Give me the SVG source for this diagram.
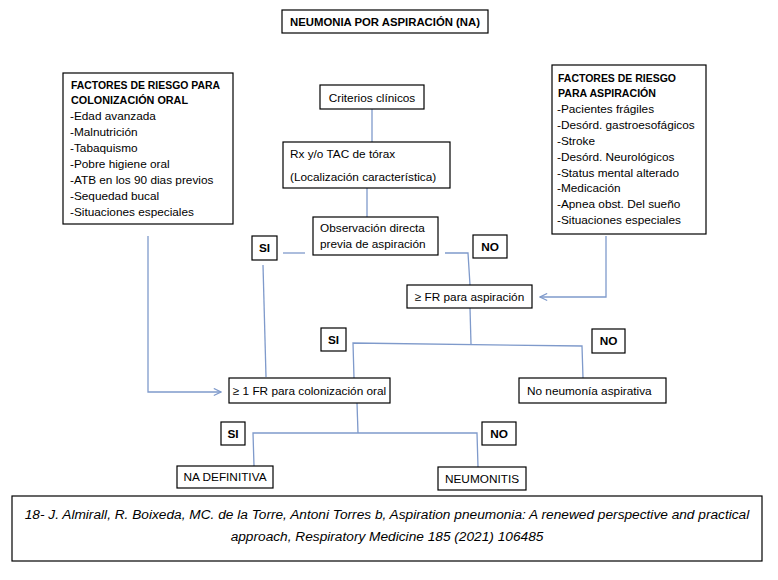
<svg xmlns="http://www.w3.org/2000/svg" width="778" height="580" viewBox="0 0 778 580">
<style>
.box{fill:#fff;stroke:#000;stroke-width:1.2}
.t{font-family:"Liberation Sans",Arial,sans-serif;font-size:11.8px;fill:#000}
.b{font-weight:bold}
.c{text-anchor:middle}
.ln{fill:none;stroke:#7f9acb;stroke-width:1.3}
.cit{font-family:"Liberation Sans",Arial,sans-serif;font-size:13.7px;font-style:italic;fill:#000;text-anchor:middle}
</style>
<defs>
<marker id="ah" viewBox="0 0 10 10" refX="9" refY="5" markerWidth="9" markerHeight="9" orient="auto" markerUnits="userSpaceOnUse">
<path d="M1,1 L9,5 L1,9" fill="none" stroke="#7f9acb" stroke-width="1.3"/>
</marker>
</defs>
<rect width="778" height="580" fill="#fff"/>

<g id="connectors">
<line class="ln" x1="372" y1="109" x2="372" y2="142"/>
<line class="ln" x1="367" y1="188" x2="367" y2="217"/>
<line class="ln" x1="283" y1="253" x2="305" y2="253"/>
<polyline class="ln" points="445,253 468,253 470,285"/>
<polyline class="ln" points="606,236 606,297 540,297" marker-end="url(#ah)"/>
<line class="ln" x1="470" y1="308" x2="471" y2="344"/>
<polyline class="ln" points="354,378 353,343 582,346 583,378"/>
<line class="ln" x1="263" y1="265" x2="266" y2="377"/>
<polyline class="ln" points="148,236 148,392 221,392" marker-end="url(#ah)"/>
<line class="ln" x1="357" y1="403" x2="358" y2="433"/>
<polyline class="ln" points="254,466 253,433 477,433 478,467"/>
</g>

<g id="title">
<rect class="box" x="282" y="10" width="206" height="23"/>
<text class="t b c" x="385" y="26" textLength="190" lengthAdjust="spacingAndGlyphs">NEUMONIA POR ASPIRACIÓN (NA)</text>
</g>

<g id="fr-colonizacion">
<rect class="box" x="63" y="73" width="170" height="151"/>
<text class="t b" x="71" y="89" textLength="149" lengthAdjust="spacingAndGlyphs">FACTORES DE RIESGO PARA</text>
<text class="t b" x="71" y="104" textLength="117" lengthAdjust="spacingAndGlyphs">COLONIZACIÓN ORAL</text>
<text class="t" x="70" y="120">-Edad avanzada</text>
<text class="t" x="70" y="136">-Malnutrición</text>
<text class="t" x="70" y="152">-Tabaquismo</text>
<text class="t" x="70" y="168">-Pobre  higiene oral</text>
<text class="t" x="70" y="184">-ATB en los 90 dias previos</text>
<text class="t" x="70" y="200">-Sequedad bucal</text>
<text class="t" x="70" y="216">-Situaciones especiales</text>
</g>

<g id="fr-aspiracion">
<rect class="box" x="552" y="65" width="154" height="169"/>
<text class="t b" x="558" y="82" textLength="118" lengthAdjust="spacingAndGlyphs">FACTORES DE RIESGO</text>
<text class="t b" x="558" y="97" textLength="98" lengthAdjust="spacingAndGlyphs">PARA ASPIRACIÓN</text>
<text class="t" x="557" y="113">-Pacientes frágiles</text>
<text class="t" x="557" y="129">-Desórd. gastroesofágicos</text>
<text class="t" x="557" y="145">-Stroke</text>
<text class="t" x="557" y="161">-Desórd. Neurológicos</text>
<text class="t" x="557" y="177">-Status mental  alterado</text>
<text class="t" x="557" y="192">-Medicación</text>
<text class="t" x="557" y="208">-Apnea obst. Del sueño</text>
<text class="t" x="557" y="224">-Situaciones especiales</text>
</g>

<g id="criterios">
<rect class="box" x="320" y="85" width="104" height="24"/>
<text class="t c" x="372" y="102">Criterios clínicos</text>
</g>

<g id="rx">
<rect class="box" x="283" y="142" width="167" height="46"/>
<text class="t" x="290" y="158">Rx y/o  TAC de tórax</text>
<text class="t" x="290" y="181">(Localización característica)</text>
</g>

<g id="observacion">
<rect class="box" x="313" y="217" width="125" height="38"/>
<text class="t" x="320" y="232">Observación directa</text>
<text class="t" x="320" y="248">previa de aspiración</text>
</g>

<g id="si1">
<rect class="box" x="252" y="236" width="25" height="24"/>
<text class="t b c" x="264.5" y="252">SI</text>
</g>

<g id="no1">
<rect class="box" x="473" y="235" width="34" height="23"/>
<text class="t b c" x="490" y="251">NO</text>
</g>

<g id="fr-asp">
<rect class="box" x="407" y="285" width="125" height="23"/>
<text class="t c" x="469.5" y="301">≥ FR para aspiración</text>
</g>

<g id="si2">
<rect class="box" x="321" y="328" width="25" height="23"/>
<text class="t b c" x="333.5" y="344">SI</text>
</g>

<g id="no2">
<rect class="box" x="592" y="329" width="33" height="24"/>
<text class="t b c" x="608.5" y="345">NO</text>
</g>

<g id="no-neumonia">
<rect class="box" x="519" y="378" width="147" height="25"/>
<text class="t" x="527" y="395">No neumonía  aspirativa</text>
</g>

<g id="fr-col">
<rect class="box" x="229" y="378" width="161" height="25"/>
<text class="t c" x="309.5" y="395">≥ 1 FR para colonización oral</text>
</g>

<g id="si3">
<rect class="box" x="221" y="422" width="24" height="23"/>
<text class="t b c" x="233" y="438">SI</text>
</g>

<g id="no3">
<rect class="box" x="482" y="422" width="34" height="23"/>
<text class="t b c" x="499" y="438">NO</text>
</g>

<g id="na-definitiva">
<rect class="box" x="177" y="466" width="96" height="22"/>
<text class="t c" x="225" y="481">NA DEFINITIVA</text>
</g>

<g id="neumonitis">
<rect class="box" x="438" y="467" width="88" height="23"/>
<text class="t c" x="482" y="483">NEUMONITIS</text>
</g>

<g id="cita">
<rect class="box" x="12" y="496" width="750" height="65"/>
<text class="cit" x="387" y="519">18- J. Almirall, R. Boixeda, MC. de la Torre, Antoni Torres b, Aspiration pneumonia: A renewed perspective and practical</text>
<text class="cit" x="387" y="541">approach, Respiratory Medicine 185 (2021) 106485</text>
</g>
</svg>
